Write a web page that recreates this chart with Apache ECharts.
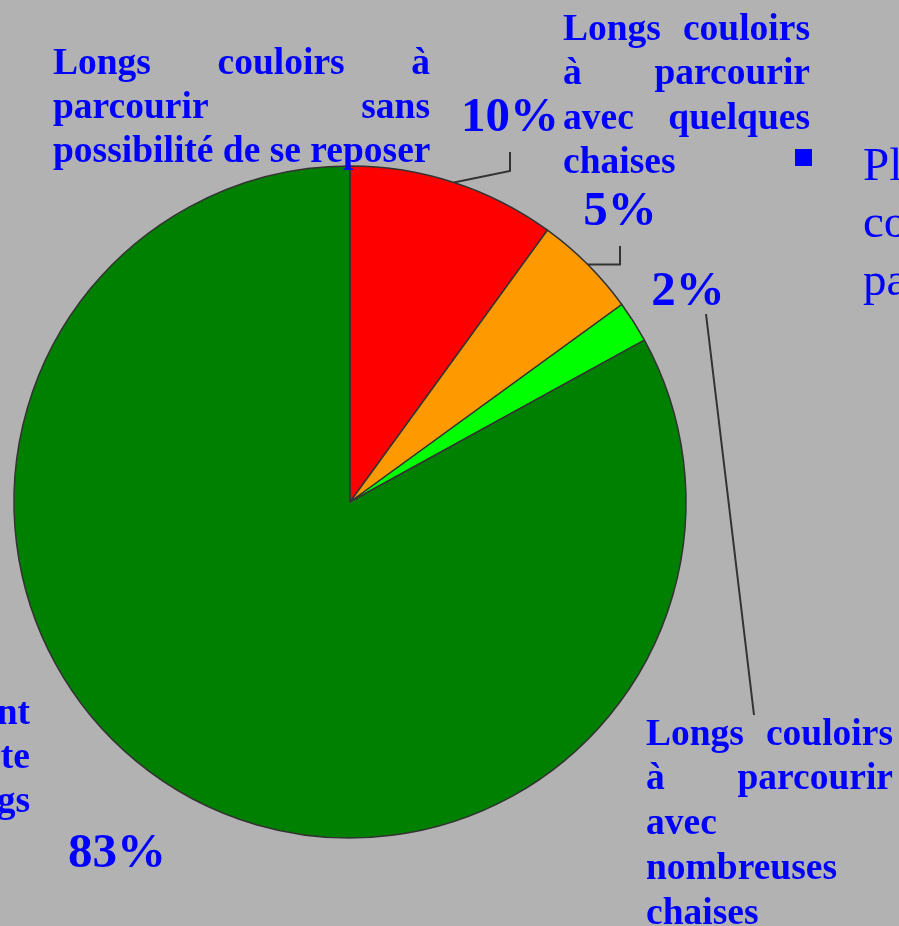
<!DOCTYPE html>
<html>
<head>
<meta charset="utf-8">
<script src="https://cdn.jsdelivr.net/npm/echarts@6/dist/echarts.min.js"></script>
<style>
  html, body { margin: 0; padding: 0; background: #b2b2b2; }
  #main { width: 899px; height: 926px; }
</style>
</head>
<body>
<div id="main"></div>
<script>
// data
var categories = [
  'Longs couloirs à parcourir sans possibilité de se reposer',
  'Longs couloirs à parcourir avec quelques chaises',
  'Longs couloirs à parcourir avec nombreuses chaises',
  'Pas de couloirs ou couloirs suffisamment courts'
];
var values = [10, 5, 2, 83];
var colors = ['#ff0000', '#ff9900', '#00ff00', '#008000'];

// how each category text is broken into lines on the slide
var descLines = [
  ['Longs couloirs à', 'parcourir sans', 'possibilité de se reposer'],
  ['Longs couloirs', 'à parcourir', 'avec quelques', 'chaises'],
  ['Longs couloirs', 'à parcourir', 'avec', 'nombreuses', 'chaises'],
  ['Pas de couloirs ou couloirs suffisamment', 'courts, distance à parcourir courte', 'pas de couloirs longs']
];
var bulletLines = ['Plus', 'couloirs', 'parcourir'];

var BLUE = '#0000ff';
var SERIF = '"Liberation Serif", "Times New Roman", serif';
var descFont = 'bold 37.5px ' + SERIF;

var ctx = document.createElement('canvas').getContext('2d');
ctx.font = descFont;
function w(t) { return ctx.measureText(t).width; }

// block: left..right box, first baseline, line step, mode ('justify' | 'right')
var blocks = [
  { left: 53, right: 430, base: 72, step: 44.3, mode: 'justify' },
  { left: 563, right: 810, base: 38, step: 44.6, mode: 'justify' },
  { left: 646, right: 893, base: 743, step: 44.75, mode: 'justify' },
  { left: -400, right: 30, base: 722, step: 44, mode: 'right' }
];

var graphics = [];
descLines.forEach(function (lines, k) {
  var b = blocks[k];
  lines.forEach(function (line, j) {
    var y = b.base + j * b.step - 8;
    var words = line.split(' ');
    var last = j === lines.length - 1;
    if (b.mode === 'right') {
      graphics.push({ type: 'text', x: b.right, y: y, z: 10,
        style: { text: line, font: descFont, fill: BLUE, align: 'right', verticalAlign: 'middle' } });
    } else if (!last && words.length > 1) {
      var sum = 0;
      words.forEach(function (wd) { sum += w(wd); });
      var gap = (b.right - b.left - sum) / (words.length - 1);
      var x = b.left;
      words.forEach(function (wd) {
        graphics.push({ type: 'text', x: x, y: y, z: 10,
          style: { text: wd, font: descFont, fill: BLUE, align: 'left', verticalAlign: 'middle' } });
        x += w(wd) + gap;
      });
    } else {
      graphics.push({ type: 'text', x: b.left, y: y, z: 10,
        style: { text: line, font: descFont, fill: BLUE, align: 'left', verticalAlign: 'middle' } });
    }
  });
});

// cut-off bullet text on the right of the slide
graphics.push({ type: 'rect', shape: { x: 795, y: 149, width: 17, height: 17 }, style: { fill: BLUE } });
bulletLines.forEach(function (t, j) {
  graphics.push({ type: 'text', x: 863, y: 178 + j * 57.5 - 10.5,
    style: { text: t, font: '47px ' + SERIF, fill: BLUE, align: 'left', verticalAlign: 'middle' } });
});

// percentage label centres
var pctPos = [[510, 118], [620, 212], [688, 292], [117, 854]];

var myChart = echarts.init(document.getElementById('main'));

var option = {
  backgroundColor: '#b2b2b2',
  animation: false,
  graphic: graphics,
  series: [
    {
      type: 'pie',
      center: [350, 502],
      radius: 336,
      startAngle: 90,
      clockwise: true,
      avoidLabelOverlap: false,
      silent: true,
      itemStyle: { borderColor: '#333333', borderWidth: 1.5 },
      label: {
        show: true,
        position: 'outside',
        formatter: '{c}%',
        fontFamily: SERIF,
        fontWeight: 'bold',
        fontSize: 49,
        color: BLUE
      },
      labelLine: {
        show: true,
        lineStyle: { color: '#333333', width: 2 }
      },
      labelLayout: function (params) {
        var i = params.dataIndex;
        var p = params.labelLinePoints;
        var start = p ? p[0] : [0, 0];
        var pts;
        if (i === 0) pts = [start, [510, 171], [510, 152]];
        else if (i === 1) pts = [start, [620, start[1]], [620, 246]];
        else if (i === 2) pts = [[706, 314], [730, 514], [754, 715]];
        var out = { x: pctPos[i][0], y: pctPos[i][1], align: 'center', verticalAlign: 'middle' };
        if (pts) out.labelLinePoints = pts;
        return out;
      },
      data: values.map(function (v, i) {
        var d = { name: categories[i], value: v, itemStyle: { color: colors[i] } };
        if (i === 3) d.labelLine = { show: false };
        return d;
      })
    }
  ]
};

myChart.setOption(option);
</script>
</body>
</html>
